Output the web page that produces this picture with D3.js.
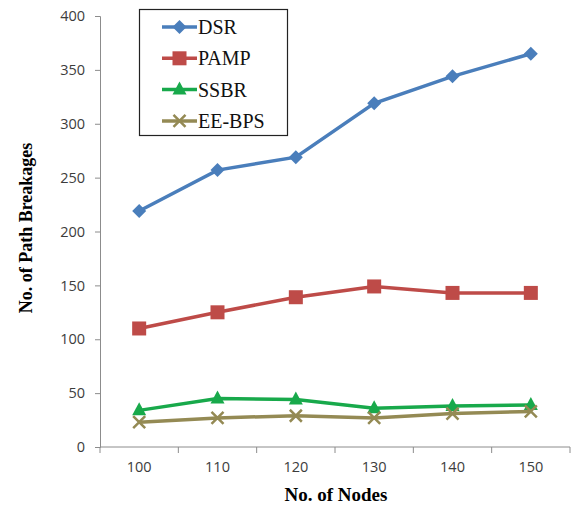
<!DOCTYPE html>
<html><head><meta charset="utf-8">
<script src="https://cdn.jsdelivr.net/npm/d3@7"></script>
<style>body{margin:0;background:#fff}</style>
</head><body>
<svg id="c" width="571" height="509"></svg>
<script>
const categories = [100, 110, 120, 130, 140, 150];
const dsr = [219, 257, 269, 319, 344, 365];
const pamp = [110, 125, 139, 149, 143, 143];
const ssbr = [34, 45, 44, 36, 38, 39];
const eebps = [23, 27, 29, 27, 31, 33];
const yTicks = [0, 50, 100, 150, 200, 250, 300, 350, 400];
const seriesNames = ["DSR", "PAMP", "SSBR", "EE-BPS"];

(function () {
const series = [
  {name: seriesNames[0], values: dsr, color: "#4a7ebb", marker: "diamond"},
  {name: seriesNames[1], values: pamp, color: "#be4b48", marker: "square"},
  {name: seriesNames[2], values: ssbr, color: "#18a94b", marker: "triangle"},
  {name: seriesNames[3], values: eebps, color: "#948a54", marker: "x"}
];

const svg = d3.select("#c");
const mL = 100, mR = 570, mT = 16, mB = 447;
const x = d3.scaleBand().domain(categories).range([mL, mR]);
const y = d3.scaleLinear().domain([0, 400]).range([mB, mT]);
const tickFont = "'Open Sans', 'DejaVu Sans', sans-serif";
const serif = "'Liberation Serif', 'Times New Roman', serif";

const yAxis = svg.append("g").attr("transform", `translate(${mL},0)`)
  .call(d3.axisLeft(y).tickValues(yTicks).tickSize(5).tickPadding(10));
const xAxis = svg.append("g").attr("transform", `translate(0,${mB})`)
  .call(d3.axisBottom(x).tickSize(0).tickPadding(15));
const bounds = categories.map(c => x(c)).concat([mR]);
xAxis.selectAll(".bt").data(bounds).enter().append("line")
  .attr("x1", d => d).attr("x2", d => d).attr("y1", 0).attr("y2", 6)
  .attr("stroke", "#8c8c8c");
[yAxis, xAxis].forEach(a => {
  a.select(".domain").attr("stroke", "#8c8c8c");
  a.selectAll(".tick line").attr("stroke", "#8c8c8c");
  a.selectAll(".tick text").attr("font-family", tickFont)
    .attr("font-size", 14.5).attr("fill", "#3c3c3c");
});
xAxis.select(".domain").attr("d", `M${mL},0H${mR}`);

svg.append("text").attr("x", 336).attr("y", 501).attr("text-anchor", "middle")
  .attr("font-family", serif).attr("font-weight", "bold")
  .attr("font-size", 19).text("No. of Nodes");
svg.append("text").attr("transform", "translate(32,228) rotate(-90)").attr("text-anchor", "middle")
  .attr("font-family", serif).attr("font-weight", "bold")
  .attr("font-size", 18).text("No. of Path Breakages");

function drawMarker(g, type, color, cx, cy) {
  if (type === "diamond") {
    g.append("path").attr("d", `M${cx},${cy-7}L${cx+7},${cy}L${cx},${cy+7}L${cx-7},${cy}Z`).attr("fill", color);
  } else if (type === "square") {
    g.append("rect").attr("x", cx-7).attr("y", cy-7).attr("width", 14).attr("height", 14).attr("fill", color);
  } else if (type === "triangle") {
    g.append("path").attr("d", `M${cx},${cy-8}L${cx+7},${cy+5}L${cx-7},${cy+5}Z`).attr("fill", color);
  } else {
    g.append("path").attr("d", `M${cx-6},${cy-6}L${cx+6},${cy+6}M${cx+6},${cy-6}L${cx-6},${cy+6}`)
      .attr("stroke", color).attr("stroke-width", 2.5);
  }
}

const line = d3.line().x((d, i) => x(categories[i]) + x.bandwidth()/2).y(d => y(d));
series.forEach(s => {
  const g = svg.append("g");
  g.append("path").attr("d", line(s.values)).attr("fill", "none")
    .attr("stroke", s.color).attr("stroke-width", 3.5);
  s.values.forEach((v, i) => drawMarker(g, s.marker, s.color, x(categories[i]) + x.bandwidth()/2, y(v)));
});

const lg = svg.append("g");
lg.append("rect").attr("x", 139.5).attr("y", 9.5).attr("width", 148).attr("height", 126)
  .attr("fill", "#fff").attr("stroke", "#222").attr("stroke-width", 1.2);
series.forEach((s, i) => {
  const ly = 27 + i * 31.3;
  lg.append("line").attr("x1", 162).attr("x2", 197).attr("y1", ly).attr("y2", ly)
    .attr("stroke", s.color).attr("stroke-width", 3.5);
  drawMarker(lg, s.marker, s.color, 179.5, ly);
  lg.append("text").attr("x", 198).attr("y", ly + 7)
    .attr("font-family", serif).attr("font-size", 20)
    .attr("fill", "#111").text(s.name);
});
})();
</script>
</body></html>
